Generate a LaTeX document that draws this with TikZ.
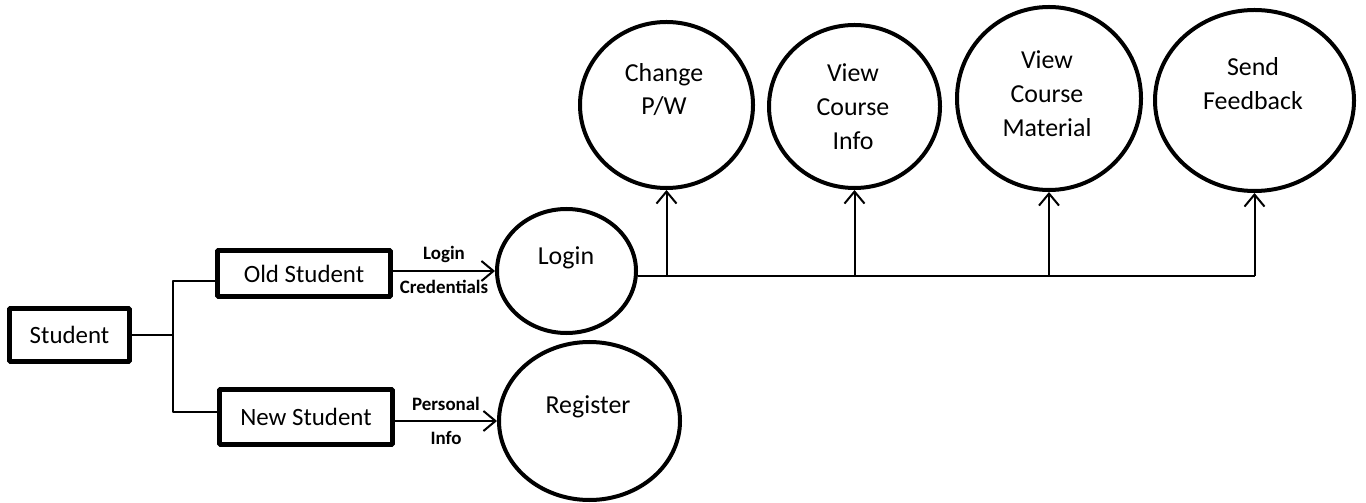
\documentclass[tikz,border=0pt]{standalone}
\usepackage{fontspec}
\setmainfont{Carlito}
\usetikzlibrary{shapes.geometric,arrows.meta}

\tikzset{
  actor/.style={draw, line width=2.5bp, rectangle, inner sep=0pt, font=\fontsize{12.5}{15}\selectfont},
  proc/.style={draw, line width=2bp, ellipse, inner sep=0pt},
  proctext/.style={align=center, inner sep=0pt, font=\fontsize{13}{17}\selectfont},
  flow/.style={line width=1bp},
  flowlabel/.style={font=\bfseries\fontsize{9.5}{11}\selectfont, inner sep=2bp},
}

\begin{document}
\begin{tikzpicture}[x=0.5bp,y=-0.5bp,>={Straight Barb[length=6bp,width=10bp]},line join=bevel]
\useasboundingbox (0,0) rectangle (1366,503);
%%
\node (student) at (69.5,335) [actor, minimum width=60bp, minimum height=26.5bp] {Student};
  \node (old) at (304,273.5) [actor, minimum width=86.5bp, minimum height=23bp] {Old Student};
  \node (new) at (306,417) [actor, minimum width=86.5bp, minimum height=27.5bp] {New Student};
  \node (login) at (566.5,271) [proc, minimum width=69.5bp, minimum height=62bp] {};
  \node (reg) at (589.5,421) [proc, minimum width=90.5bp, minimum height=79bp] {};
  \node (chg) at (666.5,105) [proc, minimum width=86.5bp, minimum height=83bp] {};
  \node (vci) at (854.5,106.5) [proc, minimum width=85.5bp, minimum height=81.5bp] {};
  \node (vcm) at (1049,98.5) [proc, minimum width=92bp, minimum height=91.5bp] {};
  \node (sfb) at (1254.5,100.5) [proc, minimum width=99.5bp, minimum height=90.5bp] {};
%
  \node (logintxt) at (566,258) [proctext] {Login};
  \node (regtxt) at (588,407) [proctext] {Register};
  \node (chgtxt) at (664,89.5) [proctext] {Change\\P/W};
  \node (vcitxt) at (853,107) [proctext] {View\\Course\\Info};
  \node (vcmtxt) at (1047,94) [proctext] {View\\Course\\Material};
  \node (sfbtxt) at (1253,83.5) [proctext] {Send\\Feedback};
%
  \coordinate (fork) at (173,335);
  \coordinate (busR) at (sfb.south |- 0,276);
  \draw [flow] (student.east) -- (fork);
  \draw [flow] (fork) |- ([yshift=-3.75bp]old.west);
  \draw [flow] (fork) |- ([yshift=2.5bp]new.west);
  \draw [flow,->] (old.east |- login.west) -- (login.west)
    node [flowlabel, midway, above=1.5bp] (lbllogin) {Login}
    node [flowlabel, midway, below=2bp] (lblcred) {Credentials};
  \draw [flow,->] (new.east |- reg.west) -- (reg.west)
    node [flowlabel, midway, above=2.5bp] (lblpers) {Personal}
    node [flowlabel, midway, below=2.5bp] (lblinfo) {Info};
  \draw [flow] (login.east |- busR) -- (busR);
  \draw [flow,->] (chg.south |- busR) -- (chg.south);
  \draw [flow,->] (vci.south |- busR) -- (vci.south);
  \draw [flow,->] (vcm.south |- busR) -- (vcm.south);
  \draw [flow,->] (busR) -- (sfb.south);
%
\end{tikzpicture}
\end{document}
